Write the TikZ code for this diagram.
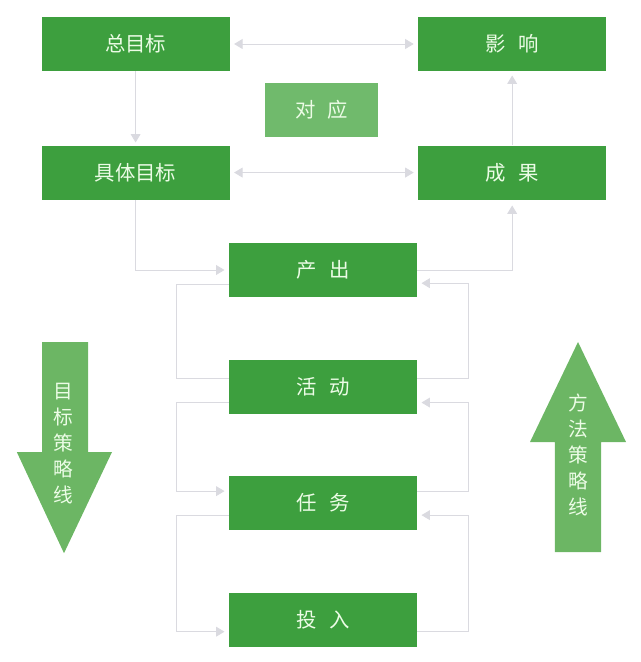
\documentclass[tikz,border=0pt]{standalone}
\usepackage{fontspec}
\setmainfont{Noto Sans CJK SC}
\usetikzlibrary{positioning, arrows.meta}

\definecolor{boxgreen}{RGB}{61,159,62}
\definecolor{softgreen}{RGB}{112,186,108}
\definecolor{arrowgreen}{RGB}{108,182,100}
\definecolor{textwhite}{RGB}{236,252,230}
\definecolor{linegray}{RGB}{218,218,224}

\begin{document}
\begin{tikzpicture}[
  font=\fontsize{14.5}{17}\selectfont,
  % block styles
  box/.style={rectangle, fill=boxgreen, text=textwhite, minimum width=4.7cm, minimum height=1.35cm, inner sep=0pt},
  lightbox/.style={box, fill=softgreen, minimum width=2.83cm},
  bigarrow/.style={fill=arrowgreen},
  vtext/.style={text=textwhite, align=center, font=\fontsize{14}{18.5}\selectfont},
  % connector styles
  link/.style={draw=linegray, line width=0.6pt},
  conn/.style={link, -{Triangle[length=6pt, width=7pt]}},
  twoway/.style={link, {Triangle[length=6pt, width=7pt]}-{Triangle[length=6pt, width=7pt]}, shorten <=3pt, shorten >=3pt}
]
  \useasboundingbox (0,0) rectangle (16,-16.55);

  % ==========================================
  % TOP: GOALS AND RESULTS
  % ==========================================
  \node[box] (zongmubiao) at (3.39,-1.1) {总目标};
  \node[box, right=4.7cm of zongmubiao] (yingxiang) {影\hspace{0.6em}响};
  \node[box, below=1.85cm of zongmubiao] (jutimubiao) {具体目标};
  \node[box, right=4.7cm of jutimubiao] (chengguo) {成\hspace{0.6em}果};
  \node[lightbox] (duiying) at (8.04,-2.75) {对\hspace{0.6em}应};

  \draw[twoway] (zongmubiao.east) -- (yingxiang.west);
  \draw[twoway] (jutimubiao.east) -- (chengguo.west);
  \draw[conn, shorten >=2pt] (zongmubiao) -- (jutimubiao);
  \draw[conn, shorten >=3pt] (chengguo) -- (yingxiang);

  % ==========================================
  % MIDDLE COLUMN
  % ==========================================
  \node[box] (chanchu) at (8.075,-6.75) {产\hspace{0.6em}出};
  \node[box, below=1.55cm of chanchu] (huodong) {活\hspace{0.6em}动};
  \node[box, below=1.55cm of huodong] (renwu) {任\hspace{0.6em}务};
  \node[box, below=1.55cm of renwu] (touru) {投\hspace{0.6em}入};

  \draw[conn, shorten >=3pt] (jutimubiao.south) |- (chanchu.west);
  \draw[conn, shorten >=4pt] (chanchu.east) -| (chengguo.south);

  % left side: going down
  \draw[link] ([yshift=-0.35cm]chanchu.west) -- ++(-1.3,0) |- ([yshift=0.2cm]huodong.west);
  \draw[conn, shorten >=3pt] ([yshift=-0.4cm]huodong.west) -- ++(-1.3,0) |- ([yshift=0.3cm]renwu.west);
  \draw[conn, shorten >=3pt] ([yshift=-0.3cm]renwu.west) -- ++(-1.3,0) |- ([yshift=-0.3cm]touru.west);

  % right side: going up
  \draw[conn, shorten >=3pt] ([yshift=0.2cm]huodong.east) -- ++(1.28,0) |- ([yshift=-0.33cm]chanchu.east);
  \draw[conn, shorten >=3pt] ([yshift=0.3cm]renwu.east) -- ++(1.28,0) |- ([yshift=-0.4cm]huodong.east);
  \draw[conn, shorten >=3pt] ([yshift=-0.3cm]touru.east) -- ++(1.28,0) |- ([yshift=-0.3cm]renwu.east);

  % ==========================================
  % STRATEGY LINES
  % ==========================================
  \fill[bigarrow] (1.05,-8.55) -- (2.2,-8.55) -- (2.2,-11.3) -- (2.8,-11.3)
    -- (1.6,-13.83) -- (0.42,-11.3) -- (1.05,-11.3) -- cycle;
  \node[vtext] (mubiaoxian) at (1.58,-11.08) {目\\标\\策\\略\\线};

  \fill[bigarrow] (14.45,-8.55) -- (15.65,-11.05) -- (15.03,-11.05) -- (15.03,-13.8)
    -- (13.87,-13.8) -- (13.87,-11.05) -- (13.25,-11.05) -- cycle;
  \node[vtext] (fangfaxian) at (14.45,-11.37) {方\\法\\策\\略\\线};

\end{tikzpicture}
\end{document}
